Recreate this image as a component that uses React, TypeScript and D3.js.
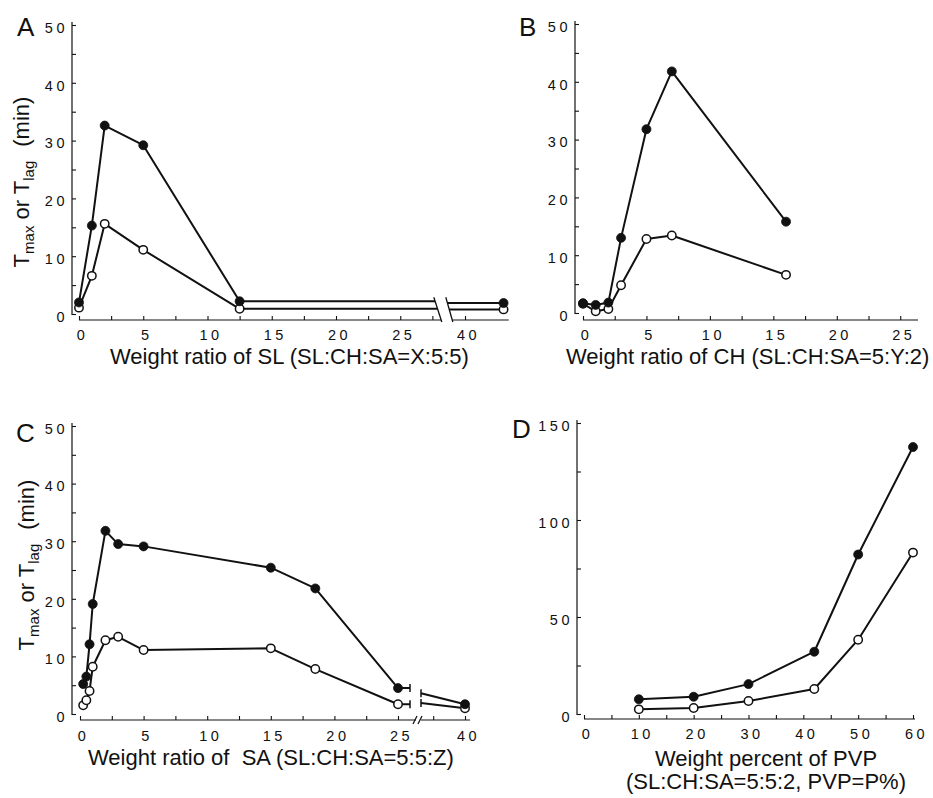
import React, { useRef, useEffect } from 'react';
import * as d3 from 'd3';

// A: weight ratio of SL (SL:CH:SA = X:5:5)
const aRatio = [0, 1, 2, 5, 12.5];
const aTmax = [2.0, 15.3, 32.6, 29.2, 2.2];
const aTlag = [1.1, 6.6, 15.6, 11.1, 0.9];
const aFarRatio = [43];
const aFarTmax = [1.9];
const aFarTlag = [0.8];

// B: weight ratio of CH (SL:CH:SA = 5:Y:2)
const bRatio = [0, 1, 2, 3, 5, 7, 16];
const bTmax = [1.7, 1.4, 1.8, 13.0, 31.8, 41.8, 15.8];
const bTlag = [1.6, 0.3, 0.7, 4.8, 12.8, 13.4, 6.6];

// C: weight ratio of SA (SL:CH:SA = 5:5:Z)
const cRatio = [0.25, 0.5, 0.75, 1, 2, 3, 5, 15, 18.5, 25];
const cTmax = [5.2, 6.5, 12.1, 19.1, 31.8, 29.5, 29.1, 25.4, 21.8, 4.5];
const cTlag = [1.5, 2.4, 4.0, 8.2, 12.8, 13.4, 11.1, 11.4, 7.8, 1.7];
const cFarRatio = [40];
const cFarTmax = [1.7];
const cFarTlag = [1.0];
// values where the lines re-enter after the axis break
const cResumeTmax = 3.6;
const cResumeTlag = 1.9;

// D: weight percent of PVP
const dPvp = [10, 20, 30, 42, 50, 60];
const dTmax = [7.6, 8.9, 15.4, 32.1, 82.2, 137.6];
const dTlag = [2.4, 3.1, 6.7, 12.9, 38.3, 83.2];

// ticks
const ratioTicks = [0, 5, 10, 15, 20, 25];
const ratioMinor = [2.5, 7.5, 12.5, 17.5, 22.5, 27.5];
const farTicks = [40];
const farMinor = [37.5];
const minTicks = [0, 10, 20, 30, 40, 50];
const minMinor = [5, 15, 25, 35, 45];
const pvpTicks = [0, 10, 20, 30, 40, 50, 60];
const pvpMinor = [5, 15, 25, 35, 45, 55];
const pvpYTicks = [0, 50, 100, 150];
const pvpYMinor = [25, 75, 125];

const FONT = '"Liberation Sans", Arial, Helvetica, sans-serif';
const INK = '#111';

export default function App() {
  const svgRef = useRef<SVGSVGElement>(null);

  useEffect(() => {
    const svg = d3.select(svgRef.current);
    svg.selectAll('*').remove();

    const fmt = (d: any) => String(d);

    const styleTicks = (g: any) => {
      g.select('.domain').remove();
      g.attr('color', INK);
      g.selectAll('line').attr('stroke-width', 1.1);
      g.selectAll('text')
        .attr('font-family', FONT)
        .attr('font-size', 14.5)
        .attr('fill', INK)
        .style('letter-spacing', '3.5px');
    };

    const yAxis = (y: any, xPos: number, majors: number[], minors: number[]) => {
      const g = svg.append('g').attr('transform', `translate(${xPos},0)`);
      const [d0, d1] = y.domain();
      g.append('line')
        .attr('x1', 0).attr('x2', 0)
        .attr('y1', y(d0) + 1).attr('y2', y(d1) - 3)
        .attr('stroke', INK).attr('stroke-width', 1.2);
      g.append('g')
        .call(d3.axisLeft(y).tickValues(majors).tickFormat(fmt).tickSizeInner(-4).tickSizeOuter(0).tickPadding(4))
        .call(styleTicks)
        .selectAll('text').attr('dy', '0.5em');
      g.append('g')
        .call(d3.axisLeft(y).tickValues(minors).tickSizeInner(-4).tickSizeOuter(0).tickFormat(() => ''))
        .call(styleTicks);
    };

    const xAxis = (x: any, yPos: number, majors: number[], minors: number[], from: number, to: number, pad: number) => {
      const g = svg.append('g').attr('transform', `translate(0,${yPos})`);
      g.append('line')
        .attr('x1', from).attr('x2', to)
        .attr('y1', 0).attr('y2', 0)
        .attr('stroke', INK).attr('stroke-width', 1.2);
      g.append('g')
        .call(d3.axisBottom(x).tickValues(majors).tickFormat(fmt).tickSizeInner(-4).tickSizeOuter(0).tickPadding(pad))
        .call(styleTicks)
        .selectAll('text').attr('dx', 3);
      g.append('g')
        .call(d3.axisBottom(x).tickValues(minors).tickSizeInner(-4).tickSizeOuter(0).tickFormat(() => ''))
        .call(styleTicks);
    };

    const drawPath = (pts: [number, number][]) => {
      svg.append('path')
        .attr('d', d3.line()(pts))
        .attr('fill', 'none')
        .attr('stroke', INK)
        .attr('stroke-width', 2)
        .attr('stroke-linejoin', 'round');
    };

    const dots = (pts: [number, number][], filled: boolean) => {
      svg.append('g').selectAll('circle')
        .data(pts)
        .enter().append('circle')
        .attr('cx', d => d[0])
        .attr('cy', d => d[1])
        .attr('r', filled ? 4.5 : 4.2)
        .attr('fill', filled ? INK : '#fff')
        .attr('stroke', INK)
        .attr('stroke-width', filled ? 0.8 : 1.5);
    };

    const pts = (xs: number[], ys: number[], x: any, y: any): [number, number][] =>
      xs.map((v, i) => [x(v), y(ys[i])]);

    const letter = (t: string, x: number, y: number) => {
      svg.append('text').attr('x', x).attr('y', y)
        .attr('font-family', FONT).attr('font-size', 26).attr('fill', INK).text(t);
    };

    const title = (t: string, x: number, y: number, anchor = 'start') => {
      svg.append('text').attr('x', x).attr('y', y)
        .attr('text-anchor', anchor)
        .attr('font-family', FONT).attr('font-size', 22).attr('fill', INK)
        .style('white-space', 'pre')
        .text(t);
    };

    const yTitle = (x: number, y: number) => {
      const t = svg.append('text')
        .attr('transform', `translate(${x},${y}) rotate(-90)`)
        .attr('text-anchor', 'middle')
        .attr('font-family', FONT).attr('font-size', 22).attr('fill', INK)
        .style('white-space', 'pre');
      t.append('tspan').text('T');
      t.append('tspan').attr('font-size', 15).attr('dy', 5).text('max');
      t.append('tspan').attr('dy', -5).text(' or T');
      t.append('tspan').attr('font-size', 15).attr('dy', 5).text('lag');
      t.append('tspan').attr('dy', -5).attr('dx', 14).text('(min)');
    };

    // ---------- Panel A ----------
    {
      const y = d3.scaleLinear().domain([0, 50]).range([314, 25]);
      const x = d3.scaleLinear().domain([0, 28]).range([79, 79 + 28 * 12.85]);
      const xFar = d3.scaleLinear().domain([40, 43]).range([465, 465 + 3 * 12.85]);
      const axisY = 320;
      const brk = x(28);
      const yTop = y(aTmax[aTmax.length - 1]) - 4;
      const yBot = axisY + 2;
      const s1 = (yy: number) => (brk - 5) + ((yy - yTop) / (yBot - yTop)) * 8;
      const s2 = (yy: number) => (brk + 7) + ((yy - yTop) / (yBot - yTop)) * 7;

      yAxis(y, 72, minTicks, minMinor);
      xAxis(x, axisY, ratioTicks, ratioMinor, x(0), s1(axisY), 10);
      xAxis(xFar, axisY, farTicks, [], s2(axisY), xFar(43.4), 10);

      [s1, s2].forEach(s => {
        svg.append('line')
          .attr('x1', s(yTop)).attr('y1', yTop)
          .attr('x2', s(yBot)).attr('y2', yBot)
          .attr('stroke', INK).attr('stroke-width', 1.3);
      });

      const series = [
        { near: aTlag, far: aFarTlag, filled: false },
        { near: aTmax, far: aFarTmax, filled: true },
      ];
      series.forEach(sr => {
        const p = pts(aRatio, sr.near, x, y);
        const last = p[p.length - 1];
        drawPath([...p, [s1(last[1]), last[1]]]);
        const fp = pts(aFarRatio, sr.far, xFar, y);
        drawPath([[s2(fp[0][1]), fp[0][1]], ...fp]);
      });
      series.forEach(sr => {
        dots(pts(aRatio, sr.near, x, y), sr.filled);
        dots(pts(aFarRatio, sr.far, xFar, y), sr.filled);
      });

      letter('A', 17, 36);
      yTitle(29, 182);
      title('Weight ratio of SL (SL:CH:SA=X:5:5)', 110, 364);
    }

    // ---------- Panel B ----------
    {
      const y = d3.scaleLinear().domain([0, 50]).range([313, 24]);
      const x = d3.scaleLinear().domain([0, 26.4]).range([583, 918]);
      yAxis(y, 575, minTicks, minMinor);
      xAxis(x, 320, ratioTicks, ratioMinor.filter(v => v < 26.4), x(0), x(26.4), 10);
      drawPath(pts(bRatio, bTlag, x, y));
      drawPath(pts(bRatio, bTmax, x, y));
      dots(pts(bRatio, bTlag, x, y), false);
      dots(pts(bRatio, bTmax, x, y), true);
      letter('B', 519, 36);
      title('Weight ratio of CH (SL:CH:SA=5:Y:2)', 566, 364);
    }

    // ---------- Panel C ----------
    {
      const y = d3.scaleLinear().domain([0, 50]).range([714, 426]);
      const x = d3.scaleLinear().domain([0, 25]).range([80, 398]);
      const xFar = d3.scaleLinear().domain([40, 41]).range([465, 465 + 12.72]);
      const axisY = 720;
      const stubEnd = x(25) + 12;
      const resume = 421;

      yAxis(y, 72, minTicks, minMinor);
      xAxis(x, axisY, ratioTicks, ratioMinor.filter(v => v < 26), x(0), 416, 11);
      xAxis(xFar, axisY, farTicks, farMinor, resume, xFar(40.4), 11);
      // axis break marks
      [415, 420].forEach(bx => {
        svg.append('line')
          .attr('x1', bx - 2).attr('y1', axisY + 4)
          .attr('x2', bx + 2).attr('y2', axisY - 4)
          .attr('stroke', INK).attr('stroke-width', 1.2);
      });

      const series = [
        { near: cTlag, far: cFarTlag, resumeVal: cResumeTlag, filled: false },
        { near: cTmax, far: cFarTmax, resumeVal: cResumeTmax, filled: true },
      ];
      series.forEach(sr => {
        const p = pts(cRatio, sr.near, x, y);
        const last = p[p.length - 1];
        drawPath([...p, [stubEnd, last[1]]]);
        svg.append('line')
          .attr('x1', stubEnd).attr('x2', stubEnd)
          .attr('y1', last[1] - 4).attr('y2', last[1] + 4)
          .attr('stroke', INK).attr('stroke-width', 1.5);
        const ry = y(sr.resumeVal);
        svg.append('line')
          .attr('x1', resume).attr('x2', resume)
          .attr('y1', ry - 4).attr('y2', ry + 4)
          .attr('stroke', INK).attr('stroke-width', 1.5);
        drawPath([[resume, ry], ...pts(cFarRatio, sr.far, xFar, y)]);
      });
      series.forEach(sr => {
        dots(pts(cRatio, sr.near, x, y), sr.filled);
        dots(pts(cFarRatio, sr.far, xFar, y), sr.filled);
      });

      letter('C', 16, 442);
      yTitle(34, 565);
      title('Weight ratio of  SA (SL:CH:SA=5:5:Z)', 88, 765);
    }

    // ---------- Panel D ----------
    {
      const y = d3.scaleLinear().domain([0, 150]).range([714, 423]);
      const x = d3.scaleLinear().domain([0, 60]).range([584, 913]);
      yAxis(y, 577, pvpYTicks, pvpYMinor);
      xAxis(x, 719, pvpTicks, pvpMinor, x(0), x(60) + 2, 10);
      drawPath(pts(dPvp, dTlag, x, y));
      drawPath(pts(dPvp, dTmax, x, y));
      dots(pts(dPvp, dTlag, x, y), false);
      dots(pts(dPvp, dTmax, x, y), true);
      letter('D', 512, 438);
      title('Weight percent of PVP', 766, 766, 'middle');
      title('(SL:CH:SA=5:5:2, PVP=P%)', 766, 789, 'middle');
    }
  }, []);

  return (
    <svg
      ref={svgRef}
      width={933}
      height={798}
      style={{ position: 'absolute', left: 0, top: 0, background: '#fff' }}
    />
  );
}
